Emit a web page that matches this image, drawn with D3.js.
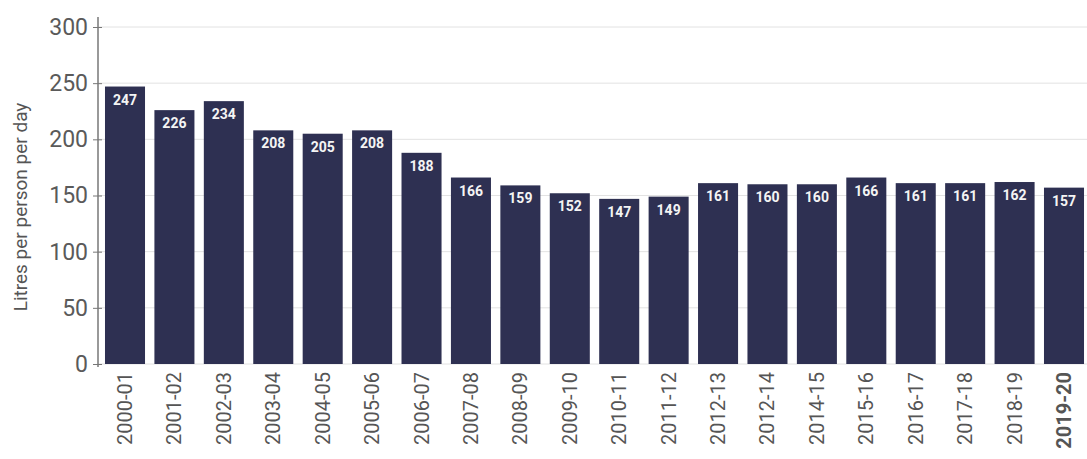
<!DOCTYPE html>
<html>
<head>
<meta charset="utf-8">
<script src="https://cdn.jsdelivr.net/npm/d3@7"></script>
<style>
  body { margin: 0; background: #fff; }
  text { font-family: Roboto, "Liberation Sans", sans-serif; }
</style>
</head>
<body>
<svg id="chart" width="1087" height="459"></svg>
<script>
// data
const years = ['2000-01', '2001-02', '2002-03', '2003-04', '2004-05', '2005-06', '2006-07',
    '2007-08', '2008-09', '2009-10', '2010-11', '2011-12', '2012-13', '2012-14', '2014-15',
    '2015-16', '2016-17', '2017-18', '2018-19', '2019-20']
const litres = [247, 226, 234, 208, 205, 208, 188, 166, 159, 152, 147, 149, 161, 160, 160,
    166, 161, 161, 162, 157]
const yTicks = [0, 50, 100, 150, 200, 250, 300]

const svg = d3.select('#chart')
const margin = { top: 27, right: 2, bottom: 95, left: 104 }
const width = 1087
const height = 459
const baseY = height - margin.bottom

const x = d3.scaleBand()
    .domain(years)
    .range([margin.left, width - margin.right])
    .paddingInner(0.19)
    .paddingOuter(0.02)

const y = d3.scaleLinear()
    .domain([0, 300])
    .range([baseY, margin.top])

// grid
svg.append('g')
    .selectAll('line')
    .data(yTicks)
    .join('line')
    .attr('x1', 98)
    .attr('x2', width)
    .attr('y1', d => y(d))
    .attr('y2', d => y(d))
    .attr('stroke', '#e2e2e2')
    .attr('stroke-width', 1)

// bars
svg.append('g')
    .selectAll('rect')
    .data(litres)
    .join('rect')
    .attr('x', (d, i) => x(years[i]))
    .attr('y', d => y(d))
    .attr('width', x.bandwidth())
    .attr('height', d => baseY - y(d))
    .attr('fill', '#2e3052')

// value labels
svg.append('g')
    .selectAll('text')
    .data(litres)
    .join('text')
    .attr('x', (d, i) => x(years[i]) + x.bandwidth() / 2)
    .attr('y', d => y(d) + 18)
    .attr('text-anchor', 'middle')
    .attr('fill', '#f4f4f4')
    .attr('font-size', 14)
    .attr('font-weight', 'bold')
    .text(d => d)

// y axis
const yAxis = svg.append('g')
    .attr('transform', 'translate(98,0)')
    .call(d3.axisLeft(y).tickValues(yTicks).tickSize(5).tickPadding(5))
yAxis.select('.domain')
    .attr('d', `M0,${margin.top - 10}V${baseY + 3}`)
    .attr('stroke', '#777')
    .attr('stroke-width', 1.5)
yAxis.selectAll('.tick line').attr('stroke', '#777').attr('x2', -5).attr('x1', 4)
yAxis.selectAll('.tick text')
    .attr('fill', '#5a5a5a')
    .attr('font-size', 23)
    .attr('font-family', 'Roboto, sans-serif')

// x labels
const xAxis = svg.append('g')
    .attr('transform', `translate(0,${baseY})`)
    .call(d3.axisBottom(x).tickSize(0).tickPadding(0))
xAxis.select('.domain').remove()
xAxis.selectAll('.tick text')
    .attr('transform', 'rotate(-90)')
    .attr('x', -8)
    .attr('y', 0)
    .attr('dy', '0.35em')
    .attr('text-anchor', 'end')
    .attr('fill', '#555')
    .attr('font-size', 20)
    .attr('font-family', 'Roboto, sans-serif')
    .attr('font-weight', d => d === '2019-20' ? 'bold' : 'normal')

// y title
svg.append('text')
    .attr('transform', 'translate(27,207) rotate(-90)')
    .attr('text-anchor', 'middle')
    .attr('fill', '#555')
    .attr('font-size', 19)
    .text('Litres per person per day')
</script>
</body>
</html>
